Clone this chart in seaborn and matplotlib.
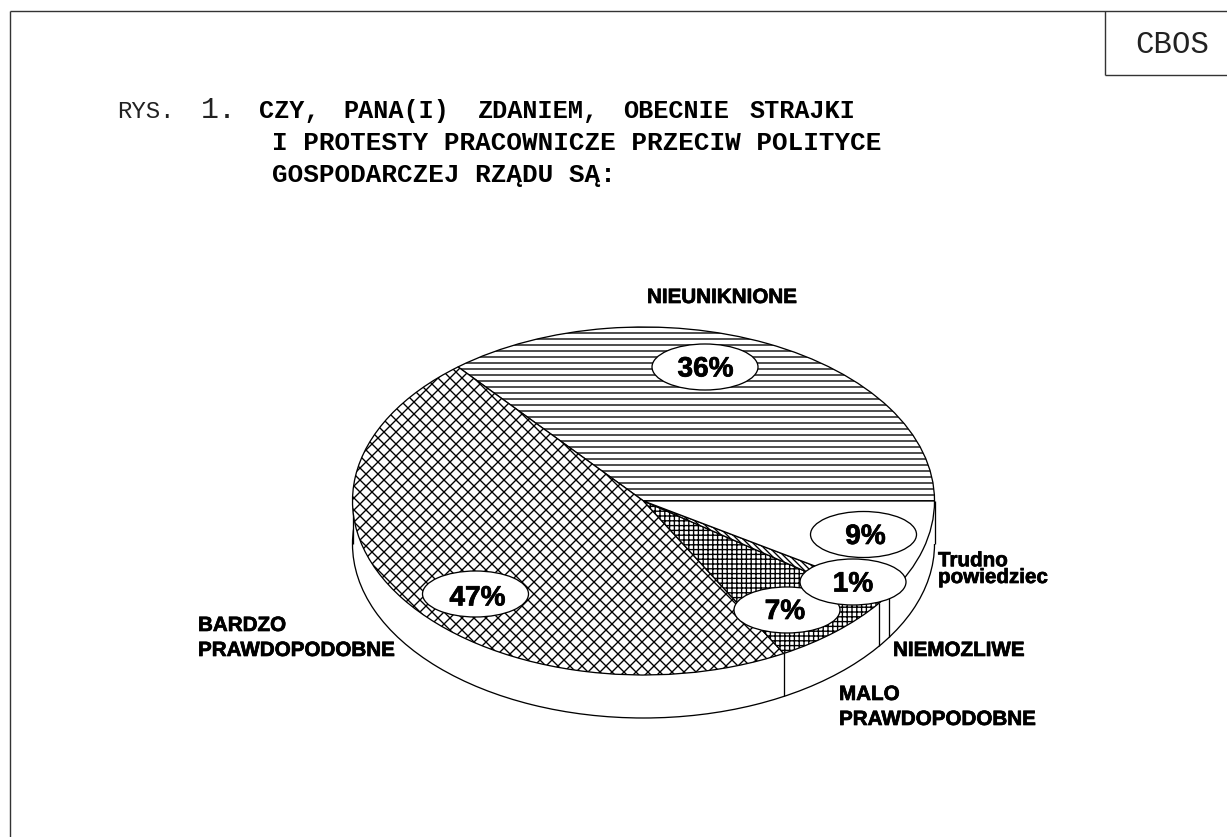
import numpy as np
import matplotlib
matplotlib.use('Agg')
import matplotlib.pyplot as plt
import matplotlib.patheffects as pe
from matplotlib.patches import Ellipse
import seaborn as sns

# Chart values
answers = ['NIEUNIKNIONE', 'BARDZO\nPRAWDOPODOBNE', 'MALO\nPRAWDOPODOBNE', 'NIEMOZLIWE', 'Trudno\npowiedziec']
shares = [36, 47, 7, 1, 9]
share_labels = ['36%', '47%', '7%', '1%', '9%']
hatches = ['----', 'xxxx', '+++++', '\\\\\\\\\\\\\\\\', '']

title_bold = ['CZY,', 'PANA(I)', 'ZDANIEM,', 'OBECNIE', 'STRAJKI']
title_line2 = 'I PROTESTY PRACOWNICZE PRZECIW POLITYCE'
title_line3 = 'GOSPODARCZEJ RZĄDU SĄ:'

sns.set_theme(style='white')
plt.rcParams['font.family'] = ['Liberation Sans', 'DejaVu Sans']
plt.rcParams['hatch.linewidth'] = 0.68
plt.rcParams['hatch.color'] = 'black'

W, H, DPI = 1227, 837, 144
fig = plt.figure(figsize=((W + 0.01) / DPI, (H + 0.01) / DPI), dpi=DPI, facecolor='white')

# Pie geometry in pixels
cx, cy, rx, ry, depth = 643.5, 501, 291, 174, 43
d = depth / ry
lw = 0.65

ax = fig.add_axes([0, 0, 1, 1])

# lower rim of the disc, then a white band to hide everything above it
ax.pie([1], center=(0, -d), radius=1, startangle=180,
       wedgeprops={'facecolor': 'white', 'edgecolor': 'black', 'linewidth': lw})
ax.fill_between([-1, 1], -d, 0, color='white', zorder=2, linewidth=0)
ax.vlines([-1, 1], -d, 0, color='black', linewidth=lw, zorder=3)

# dividers on the front wall, at the slice boundaries
edges = np.cumsum(shares) / np.sum(shares) * 2 * np.pi
for a in edges:
    if np.sin(a) < -0.01:
        ax.vlines(np.cos(a), np.sin(a) - d, np.sin(a), color='black', linewidth=lw, zorder=3)

wedges, _ = ax.pie(shares, startangle=0, radius=1, colors=['white'] * 5,
                   wedgeprops={'edgecolor': 'black', 'linewidth': lw})
for w, h in zip(wedges, hatches):
    w.set_hatch(h)
    w.set_zorder(4)

ax.set_aspect('auto')
ax.set_xlim(-cx / rx, (W - cx) / rx)
ax.set_ylim(-(H - cy) / ry, cy / ry)
ax.axis('off')

# Overlay in pixel coordinates for frame, ovals and text
ov = fig.add_axes([0, 0, 1, 1], zorder=5)
ov.set_xlim(0, W)
ov.set_ylim(H, 0)
ov.axis('off')
ov.patch.set_alpha(0)

frame_kw = dict(color='#333333', linewidth=0.7, solid_capstyle='butt')
ov.plot([9.5, 9.5], [H, 11], **frame_kw)
ov.plot([9.5, W], [11, 11], **frame_kw)
ov.plot([1104.5, 1104.5], [11, 75], **frame_kw)
ov.plot([1104.5, W], [75, 75], **frame_kw)

mono = 'Liberation Mono'
heavy = [pe.withStroke(linewidth=0.35, foreground='black')]
ov.text(1135, 53, 'CBOS', family=mono, fontsize=15.4, color='#222222')
ov.text(117, 118, 'RYS.', family=mono, fontsize=12, color='#222222')
ov.text(201, 118, '1.', family=mono, fontsize=15, color='#222222')

for word, x in zip(title_bold, [259, 343, 478, 623, 750]):
    ov.text(x, 118, word, family=mono, fontweight='bold', fontsize=12.6, color='black')
ov.text(272, 150, title_line2, family=mono, fontweight='bold', fontsize=13, color='black')
ov.text(272, 182, title_line3, family=mono, fontweight='bold', fontsize=13, color='black')

# Answer labels
label_pos = [(647, 303), (198, 656), (839, 725), (893, 656), (938, 583)]
for lab, (x, y) in zip(answers, label_pos):
    ov.text(x, y, lab, fontweight='bold', fontsize=10.3, color='black', va='baseline',
            linespacing=1.4 if lab[0] != 'T' else 0.85, path_effects=heavy)

# Percentage ovals, drawn in this order so that 1% lies on top
oval_pos = {'36%': (705, 367), '47%': (475.5, 594), '9%': (863.5, 534.5), '7%': (787, 610), '1%': (853, 582)}
text_pos = {'36%': (705.5, 376.5), '47%': (477.5, 605.5), '9%': (865.5, 544), '7%': (785, 619), '1%': (853, 591.5)}
for lab in ['36%', '47%', '9%', '7%', '1%']:
    ov.add_patch(Ellipse(oval_pos[lab], 106, 46, facecolor='white', edgecolor='black', linewidth=lw))
    x, y = text_pos[lab]
    ov.text(x, y, lab, fontweight='bold', fontsize=14, color='black', ha='center', va='baseline',
            path_effects=heavy)

fig.savefig('out.png', dpi=DPI, facecolor='white')
